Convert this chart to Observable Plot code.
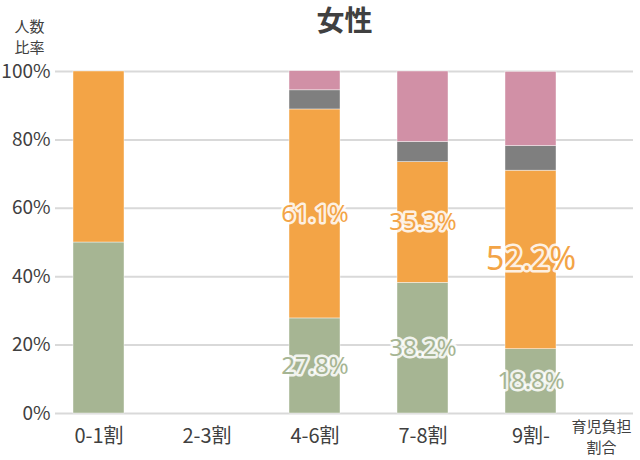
<!DOCTYPE html>
<html>
<head>
<meta charset="utf-8">
<script src="https://cdn.jsdelivr.net/npm/d3@7"></script>
<script src="https://cdn.jsdelivr.net/npm/@observablehq/plot@0.6"></script>
<style>
  html, body { margin: 0; padding: 0; background: #fff; }
  #chart { width: 640px; height: 460px; }
</style>
</head>
<body>
<div id="chart"></div>
<script>
const categories = ["0-1割", "2-3割", "4-6割", "7-8割", "9割-"];
const seriesNames = ["s1", "s2", "s3", "s4"];
const seriesColors = ["#a6b593", "#f3a446", "#7f7f7f", "#d190a6"];
const s1Values = [50, 0, 27.8, 38.2, 18.8];
const s2Values = [50, 0, 61.1, 35.3, 52.2];
const s3Values = [0, 0, 5.6, 5.9, 7.2];
const s4Values = [0, 0, 5.6, 20.6, 21.7];
const labelledCategories = ["4-6割", "7-8割", "9割-"];
const labelledSeries = ["s1", "s2"];
const yTicks = [0, 20, 40, 60, 80, 100];
const title = "女性";
const yLabel = ["人数", "比率"];
const xLabel = ["育児負担", "割合"];

const allValues = [s1Values, s2Values, s3Values, s4Values];
const rows = [];
categories.forEach((c, i) => {
  seriesNames.forEach((s, j) => {
    rows.push({cat: c, series: s, value: allValues[j][i]});
  });
});
const isLabelled = d => labelledCategories.includes(d.cat) && labelledSeries.includes(d.series) && d.value > 0;
const colorOf = s => seriesColors[seriesNames.indexOf(s)];

const font = "'Noto Sans CJK JP', 'Noto Sans', sans-serif";
const labelFont = "'Noto Sans', sans-serif";

const chart = Plot.plot({
  width: 640,
  height: 460,
  marginTop: 71,
  marginBottom: 47,
  marginLeft: 55,
  marginRight: 7,
  style: {fontFamily: font, color: "#404040", background: "#fff"},
  x: {type: "band", domain: categories, range: [44, 584], paddingInner: 0.53, paddingOuter: 0.265, label: null},
  y: {domain: [0, 100], label: null},
  color: {domain: seriesNames, range: seriesColors},
  marks: [
    Plot.ruleY(yTicks, {stroke: "#d9d9d9", strokeWidth: 2}),
    Plot.barY(rows, Plot.stackY({x: "cat", y: "value", fill: "series", stroke: "#ffffff", strokeWidth: 0.6, strokeOpacity: 0.7})),
    Plot.text(rows, Plot.stackY({
      x: "cat", y: "value",
      text: d => isLabelled(d) ? d.value.toFixed(1) + "%" : "",
      fill: d => colorOf(d.series),
      stroke: "#ffffff", strokeWidth: 5, strokeOpacity: 0.85, strokeLinejoin: "round",
      fontSize: d => (d.cat === "9割-" && d.series === "s2") ? 32 : 24,
      fontFamily: labelFont
    })),
    Plot.axisY(yTicks, {tickSize: 0, tickPadding: 5, tickFormat: d => d + "%", fontSize: 19, fill: "#404040", label: null}),
    Plot.axisX({tickSize: 0, tickPadding: 15, fontSize: 20, fill: "#404040", label: null}),
    Plot.text([title], {frameAnchor: "top", dy: -49, lineAnchor: "middle", fontSize: 28, fontWeight: "bold", fill: "#404040"}),
    Plot.text([yLabel.join("\n")], {frameAnchor: "top-left", dx: -26, dy: -36, fontSize: 15, fill: "#404040", lineHeight: 1.4, textAnchor: "middle", lineAnchor: "middle"}),
    Plot.text([xLabel.join("\n")], {frameAnchor: "bottom-right", dx: -32, dy: 4, fontSize: 15, fill: "#404040", lineHeight: 1.4, textAnchor: "middle", lineAnchor: "top"})
  ]
});
document.getElementById("chart").appendChild(chart);
</script>
</body>
</html>
